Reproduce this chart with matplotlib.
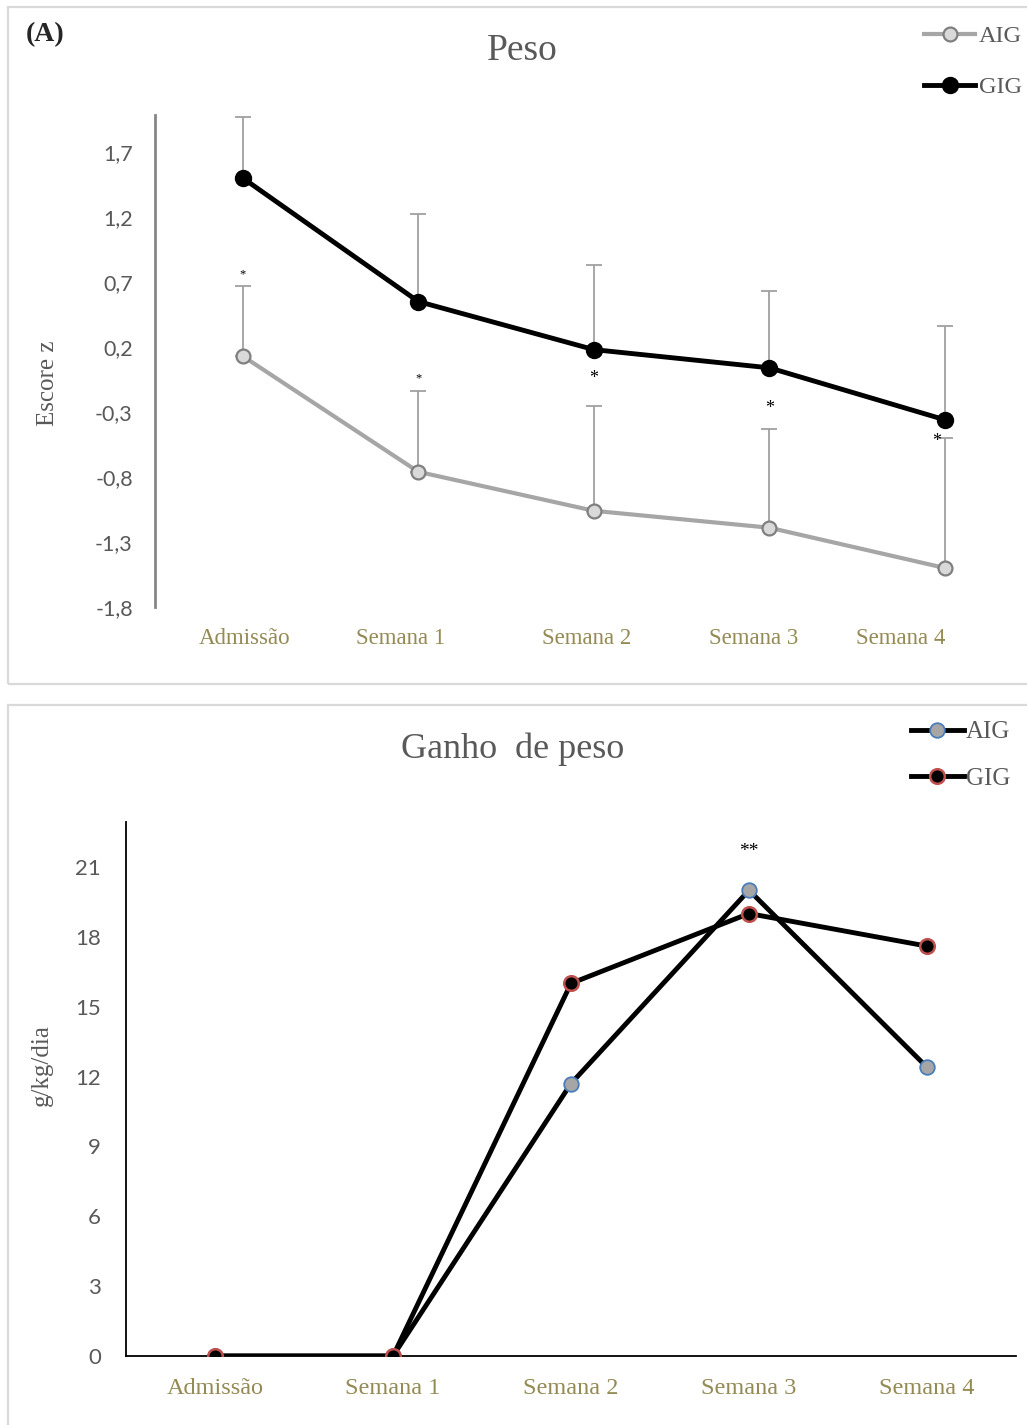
import matplotlib.pyplot as plt
import numpy as np
from matplotlib.patches import Rectangle

plt.rcParams['font.family'] = ['Liberation Serif', 'DejaVu Serif']

# data
categorias = ['Admissão', 'Semana 1', 'Semana 2', 'Semana 3', 'Semana 4']

# Peso (escore z) com desvio (somente para cima)
peso_aig = [0.13, -0.76, -1.06, -1.19, -1.50]
peso_aig_dp = [0.54, 0.62, 0.81, 0.76, 1.00]
peso_gig = [1.50, 0.55, 0.18, 0.04, -0.36]
peso_gig_dp = [0.47, 0.67, 0.65, 0.59, 0.72]
peso_sig = ['*', '*', '*', '*', '*']
peso_yticks = [-1.8, -1.3, -0.8, -0.3, 0.2, 0.7, 1.2, 1.7]

# Ganho de peso (g/kg/dia)
ganho_aig = [0, 0, 11.7, 20.0, 12.4]
ganho_gig = [0, 0, 16.0, 19.0, 17.6]
ganho_yticks = [0, 3, 6, 9, 12, 15, 18, 21]

W, H = 1027, 1425
fig = plt.figure(figsize=(W / 100, H / 100), dpi=100)

def fx(px):
    return px / W

def fy(py):
    return 1 - py / H

cinza_txt = '#595959'
oliva = '#948a54'

# molduras dos painéis
fig.patches.append(Rectangle((fx(8), fy(684)), 1.2, fy(7) - fy(684), transform=fig.transFigure,
                             fill=False, edgecolor='#d9d9d9', lw=1.6))
fig.patches.append(Rectangle((fx(8), -0.2), 1.2, fy(705) + 0.2, transform=fig.transFigure,
                             fill=False, edgecolor='#d9d9d9', lw=1.6))

# ---------- (A) Peso ----------
ax1 = fig.add_axes([fx(155), fy(607), 1 - fx(155), fy(115) - fy(607)])
x = np.arange(len(categorias))
ax1.errorbar(x, peso_gig, yerr=[np.zeros(5), peso_gig_dp], fmt='none', ecolor='#a0a0a0',
             elinewidth=1.3, capsize=6, capthick=1.3, zorder=1)
ax1.errorbar(x, peso_aig, yerr=[np.zeros(5), peso_aig_dp], fmt='none', ecolor='#a0a0a0',
             elinewidth=1.3, capsize=6, capthick=1.3, zorder=1)
l_aig, = ax1.plot(x, peso_aig, color='#a6a6a6', lw=3, marker='o', ms=10,
                  mfc='#d9d9d9', mec='#7f7f7f', mew=1.6, zorder=3, label='AIG')
l_gig, = ax1.plot(x, peso_gig, color='black', lw=3.5, marker='o', ms=11.5,
                  mfc='black', mec='black', zorder=4, label='GIG')

sig_pos = [(0.0, 0.76, 9), (1.0, -0.04, 9), (2.0, -0.04, 13), (3.0, -0.27, 13), (3.95, -0.53, 13)]
for s, (sx, sy, fs) in zip(peso_sig, sig_pos):
    ax1.text(sx, sy, s, ha='center', va='center', fontsize=fs, color='black')

ax1.set_xlim(-0.5, (W - 243) / 175.5)
ax1.set_ylim(-1.8, 1.985)
ax1.set_yticks(peso_yticks, [f'{v:.1f}'.replace('.', ',') for v in peso_yticks])
lab_pos = [0.01, 0.9, 1.96, 2.91, 3.75]
ax1.set_xticks(lab_pos, categorias)
ax1.tick_params(axis='x', length=0, pad=15, labelsize=16.5, labelcolor=oliva)
ax1.tick_params(axis='y', length=0, pad=16, labelsize=15.5, labelcolor=cinza_txt)
for t in ax1.get_yticklabels():
    t.set_fontfamily('Lato')
for sp in ['top', 'right', 'bottom']:
    ax1.spines[sp].set_visible(False)
ax1.spines['left'].set_color('#868686')
ax1.spines['left'].set_linewidth(2)
fig.text(fx(48), fy(383), 'Escore z', rotation=90, ha='center', va='center',
         fontsize=18, color=cinza_txt)

fig.text(fx(522), fy(51), 'Peso', ha='center', va='center', fontsize=27, color=cinza_txt)
fig.text(fx(45), fy(35), '(A)', ha='center', va='center', fontsize=20, fontweight='bold', color='#262626')
fig.legend(handles=[l_aig, l_gig], loc='upper left', bbox_to_anchor=(fx(924), fy(25)),
           frameon=False, fontsize=17.5, handlelength=2.1, handletextpad=0.15,
           labelspacing=1.2, borderpad=0, borderaxespad=0, labelcolor=cinza_txt)

# ---------- Ganho de peso ----------
ax2 = fig.add_axes([fx(126), fy(1356), fx(1016) - fx(126), fy(822) - fy(1356)])
g_aig, = ax2.plot(x, ganho_aig, color='black', lw=3.5, marker='o', ms=10.5,
                  mfc='#a6a6a6', mec='#4a7ebb', mew=1.3, zorder=3, label='AIG')
g_gig, = ax2.plot(x, ganho_gig, color='black', lw=3.5, marker='o', ms=10.5,
                  mfc='black', mec='#c0504d', mew=1.8, zorder=4, label='GIG')
ax2.text(3, 21.65, '**', ha='center', va='center', fontsize=14, color='black')

ax2.set_xlim(-0.5, 4.5)
ax2.set_ylim(0, 22.93)
ax2.set_yticks(ganho_yticks, [str(v) for v in ganho_yticks])
ax2.set_xticks(x, categorias)
ax2.tick_params(axis='x', length=0, pad=16, labelsize=17.5, labelcolor=oliva)
ax2.tick_params(axis='y', length=0, pad=18, labelsize=16, labelcolor=cinza_txt)
for t in ax2.get_yticklabels():
    t.set_fontfamily('Lato')
for sp in ['top', 'right']:
    ax2.spines[sp].set_visible(False)
for sp in ['left', 'bottom']:
    ax2.spines[sp].set_color('black')
    ax2.spines[sp].set_linewidth(1.3)
fig.text(fx(42), fy(1065), 'g/kg/dia', rotation=90, ha='center', va='center',
         fontsize=18, color=cinza_txt)

fig.text(fx(513), fy(749), 'Ganho  de peso', ha='center', va='center', fontsize=26, color=cinza_txt)
fig.legend(handles=[g_aig, g_gig], loc='upper left', bbox_to_anchor=(fx(911), fy(721)),
           frameon=False, fontsize=18, handlelength=2.1, handletextpad=0.1,
           labelspacing=0.95, borderpad=0, borderaxespad=0, labelcolor=cinza_txt)

fig.savefig('out.png', dpi=100)
